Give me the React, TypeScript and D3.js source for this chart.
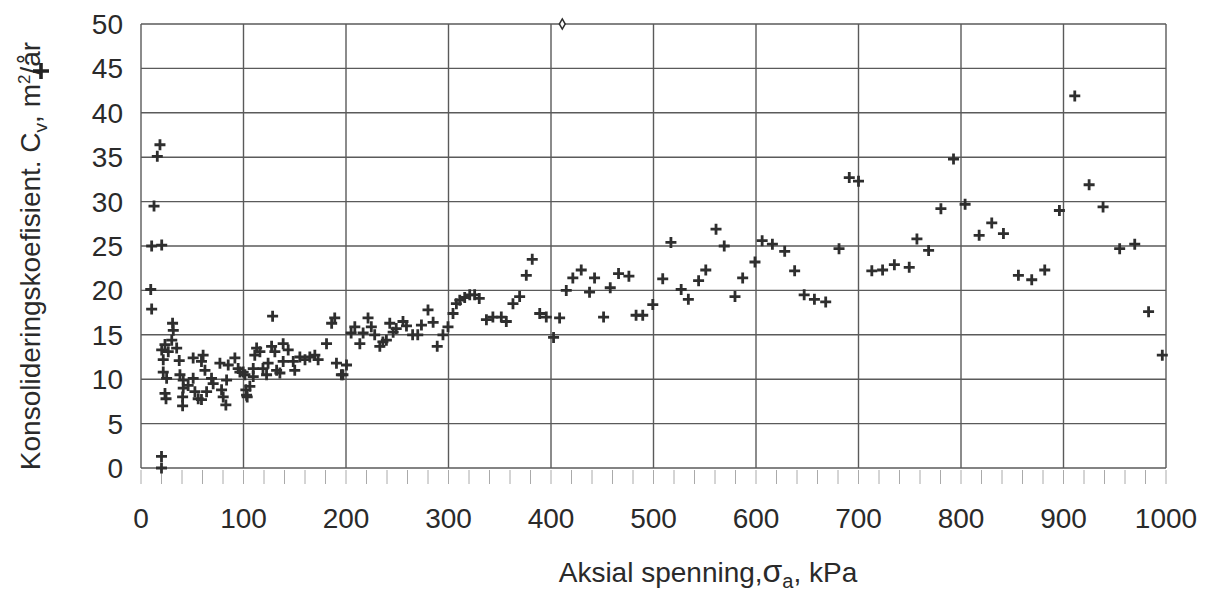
import React, { useRef, useEffect } from 'react';
import * as d3 from 'd3';

// stress (kPa), Cv (m2/year)
const nearZero = [
  [9.5, 20.1], [10.4, 17.9], [10.4, 25.0], [20.2, 25.1], [12.7, 29.5], [15.9, 35.1], [18.5, 36.4],
  [20, 1.3], [20, 0],
];
const band0to100 = [
  [30.8, 16.3], [31.5, 15.5], [30, 14.4], [23.4, 13.9], [20.2, 13.3], [34.8, 13.5], [26.6, 13.1],
  [21.7, 12.2], [37.3, 12.1], [21.7, 10.8], [25, 10.1], [23.4, 8.4], [24.4, 7.8], [38, 10.5],
  [41.2, 9.9], [41.2, 9.0], [46, 9.3], [40.6, 8.0], [40.6, 7.0], [50.9, 12.4], [60.6, 12.7],
  [59, 12.0], [50.9, 10.1], [52.6, 8.6], [55.8, 7.8], [62.4, 11.0], [68.8, 10.1], [70.4, 9.5],
  [64, 8.6], [59, 7.7], [77, 11.8], [78.6, 8.8], [80.2, 8.0], [82.8, 7.1], [83.5, 9.9],
  [85.1, 11.6], [91.6, 12.4], [94.8, 11.2], [99.7, 10.8], [102.3, 8.8], [103.6, 8.0],
];
const band100to200 = [
  [128.4, 17.1], [189, 16.9], [186, 16.3], [181, 14.0], [112.8, 13.5], [116, 13.1], [111, 12.7],
  [127.4, 13.7], [130.6, 13.1], [138.7, 14.0], [143.6, 13.3], [138.7, 12.0], [124, 11.8],
  [132.3, 11.0], [135.5, 10.7], [148.5, 12.0], [150, 11.0], [155, 12.5], [160, 12.2],
  [164.7, 12.5], [169.6, 12.7], [172.8, 12.2], [109.5, 11.2], [119, 11.2], [122.5, 10.5],
  [109.5, 10.3], [96.5, 10.8], [101.4, 10.5], [106.2, 9.2], [103, 8.2], [190.7, 11.8],
  [195.5, 10.5], [200.5, 11.6], [197, 10.5],
];
const band200to450 = [
  [208.6, 15.9], [205, 15.2], [216.7, 15.2], [213.5, 14.0], [221.5, 16.9], [224.7, 15.9],
  [228, 15.0], [233, 13.7], [236, 14.2], [239.4, 14.4], [242.7, 16.3], [246, 15.3], [249, 15.7],
  [255.6, 16.5], [259, 16.0], [265, 15.0], [270, 15.0], [273.6, 16.1], [280, 17.8], [285, 16.4],
  [289, 13.7], [294.6, 15.0], [299.5, 15.9], [304.4, 17.4], [307.7, 18.5], [311, 18.9],
  [315.8, 19.2], [320.7, 19.5], [325.5, 19.5], [330, 19.1], [337, 16.7], [343.3, 17.0],
  [351.5, 17.0], [356.4, 16.5], [362.9, 18.5], [369.4, 19.3], [375.9, 21.7], [381.7, 23.5],
  [389, 17.4], [395.4, 17.0], [402.5, 14.7], [408.4, 16.9], [414.9, 20.0], [421.3, 21.4],
  [429.5, 22.3], [437.6, 19.8], [442.5, 21.4],
];
const band450to700 = [
  [451.3, 17.0], [457.8, 20.3], [465.9, 21.9], [476, 21.6], [483, 17.2], [489.5, 17.2],
  [499.3, 18.4], [509, 21.3], [517, 25.4], [527, 20.1], [534, 19.0], [544, 21.1], [551, 22.3],
  [561, 26.9], [569, 25.0], [579.5, 19.3], [587, 21.4], [599, 23.2], [606, 25.6], [616, 25.2],
  [628, 24.4], [637.7, 22.2], [647, 19.5], [657, 19.0], [668, 18.7], [681, 24.7],
  [691, 32.7], [700, 32.3],
];
const band700up = [
  [713, 22.2], [723.5, 22.3], [735, 22.9], [749.5, 22.6], [757, 25.8], [768.4, 24.5],
  [780.4, 29.2], [792.7, 34.8], [804, 29.7], [817.7, 26.2], [830, 27.6], [841.4, 26.4],
  [856, 21.7], [869, 21.2], [881.7, 22.3], [896, 29.0], [911, 41.9], [925, 31.9],
  [938.6, 29.4], [954.8, 24.7], [969.5, 25.2], [983, 17.6], [996.4, 12.7],
];
// the single open diamond at the top edge
const diamondPoints = [[411, 50]];

const xTicks = [0, 100, 200, 300, 400, 500, 600, 700, 800, 900, 1000];
const yTicks = [0, 5, 10, 15, 20, 25, 30, 35, 40, 45, 50];

const Chart = () => {
  const ref = useRef(null);

  useEffect(() => {
    const svg = d3.select(ref.current);
    svg.selectAll('*').remove();

    const left = 141;
    const right = 1166;
    const top = 24;
    const bottom = 468;
    const font = '"Liberation Sans", Arial, sans-serif';
    const gridColor = '#5a5a5a';
    const markColor = '#2e2e2e';
    const textColor = '#2a2a2a';

    const x = d3.scaleLinear().domain([0, 1000]).range([left, right]);
    const y = d3.scaleLinear().domain([0, 50]).range([bottom, top]);

    // grid
    svg
      .append('g')
      .selectAll('line')
      .data(yTicks)
      .enter()
      .append('line')
      .attr('x1', left)
      .attr('x2', right)
      .attr('y1', (d) => y(d))
      .attr('y2', (d) => y(d))
      .attr('stroke', gridColor)
      .attr('stroke-width', 1.4);

    svg
      .append('g')
      .selectAll('line')
      .data(xTicks)
      .enter()
      .append('line')
      .attr('x1', (d) => x(d))
      .attr('x2', (d) => x(d))
      .attr('y1', top)
      .attr('y2', bottom)
      .attr('stroke', gridColor)
      .attr('stroke-width', 1.4);

    // minor ticks under the x axis, every 20 kPa
    svg
      .append('g')
      .selectAll('line')
      .data(d3.range(0, 1001, 20))
      .enter()
      .append('line')
      .attr('x1', (d) => x(d))
      .attr('x2', (d) => x(d))
      .attr('y1', bottom + 2)
      .attr('y2', bottom + 16)
      .attr('stroke', '#aaa')
      .attr('stroke-width', 1);

    // tick labels
    svg
      .append('g')
      .selectAll('text')
      .data(yTicks)
      .enter()
      .append('text')
      .attr('x', 123)
      .attr('y', (d) => y(d))
      .attr('dy', '0.36em')
      .attr('text-anchor', 'end')
      .attr('font-family', font)
      .attr('font-size', 28)
      .attr('fill', textColor)
      .text((d) => d);

    svg
      .append('g')
      .selectAll('text')
      .data(xTicks)
      .enter()
      .append('text')
      .attr('x', (d) => x(d))
      .attr('y', 528)
      .attr('text-anchor', 'middle')
      .attr('font-family', font)
      .attr('font-size', 28)
      .attr('fill', textColor)
      .text((d) => d);

    // axis titles
    const xTitle = svg
      .append('text')
      .attr('x', 708)
      .attr('y', 582)
      .attr('text-anchor', 'middle')
      .attr('font-family', font)
      .attr('font-size', 28)
      .attr('fill', textColor);
    xTitle.append('tspan').text('Aksial spenning,');
    xTitle.append('tspan').attr('font-size', 32).text('σ');
    xTitle.append('tspan').attr('font-size', 20).attr('dy', 6).text('a');
    xTitle.append('tspan').attr('dy', -6).text(', kPa');

    const yTitle = svg
      .append('text')
      .attr('transform', 'translate(40, 256) rotate(-90)')
      .attr('text-anchor', 'middle')
      .attr('font-family', font)
      .attr('font-size', 28)
      .attr('fill', textColor);
    yTitle.append('tspan').text('Konsolideringskoefisient. C');
    yTitle.append('tspan').attr('font-size', 19).attr('dy', 7).text('v');
    yTitle.append('tspan').attr('dy', -7).text(', m');
    yTitle.append('tspan').attr('font-size', 17).attr('dy', -10).text('2');
    yTitle.append('tspan').attr('dy', 10).text('/år');

    // bold plus next to the unit
    svg
      .append('path')
      .attr('d', 'M33,71H49M41,63V79')
      .attr('stroke', '#222')
      .attr('stroke-width', 3.6);

    // data points
    const points = [
      ...nearZero,
      ...band0to100,
      ...band100to200,
      ...band200to450,
      ...band450to700,
      ...band700up,
    ];
    const arm = 5.5;
    svg
      .append('g')
      .selectAll('path')
      .data(points)
      .enter()
      .append('path')
      .attr(
        'd',
        (d) =>
          `M${x(d[0]) - arm},${y(d[1])}H${x(d[0]) + arm}M${x(d[0])},${y(d[1]) - arm}V${y(d[1]) + arm}`
      )
      .attr('stroke', markColor)
      .attr('stroke-width', 2.8)
      .attr('fill', 'none');

    svg
      .append('g')
      .selectAll('path')
      .data(diamondPoints)
      .enter()
      .append('path')
      .attr('d', d3.symbol().type(d3.symbolDiamond).size(30))
      .attr('transform', (d) => `translate(${x(d[0])}, ${y(d[1])})`)
      .attr('fill', '#fff')
      .attr('stroke', markColor)
      .attr('stroke-width', 1.5);
  }, []);

  return (
    <svg
      ref={ref}
      width={1216}
      height={595}
      style={{ position: 'absolute', left: 0, top: 0, background: '#fff' }}
    />
  );
};

export default function App() {
  return <Chart />;
}
